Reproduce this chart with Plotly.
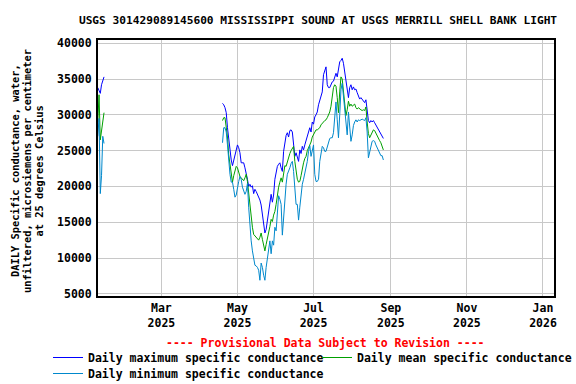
import plotly.graph_objects as go
import pandas as pd

# ---- data ----
early_start = "2025-01-09"
early_max = [33800, 33300, 33000, 34200, 34800, 35300]
early_mean = [29000, 32800, 26500, 28000, 29500, 30300]
early_min = [27000, 29500, 19000, 21500, 27000, 26000]

main_start = "2025-04-19"
main_max = [31600, 31400, 31000, 30300, 28200, 26500, 25100, 23700, 22900, 23600,
            24300, 25400, 25800, 25400, 24700, 23300, 23300, 23300, 22600, 21900,
            21000, 20000, 20300, 19900, 20100, 19000, 19600, 19300, 18900, 18500,
            18100, 17400, 16100, 14700, 13500, 14000, 15100, 16100, 17500, 18900,
            17800, 18800, 21000, 21800, 22800, 23100, 23300, 22600, 22100, 24900,
            26200, 27100, 27500, 26900, 27800, 27900, 27600, 25800, 24200, 24700,
            24000, 23500, 25100, 24600, 25600, 25100, 25800, 26400, 26800, 27600,
            28200, 27600, 29000, 28700, 29700, 30000, 30400, 31400, 32100, 32500,
            33200, 35600, 36200, 36700, 34200, 33800, 33800, 34300, 34600, 34700,
            35400, 35800, 35300, 36200, 37400, 37600, 37900, 37200, 36000, 34300,
            33500, 32400, 33800, 34200, 33500, 33900, 33500, 33600, 33100, 32500,
            32200, 32400, 32100, 31800, 31700, 32100, 30400, 29200, 28900, 29200,
            29000, 29200, 28900, 28600, 28300, 27900, 27600, 27400, 27100, 26700]
main_mean = [29200, 29600, 29600, 28300, 26900, 24400, 22900, 21200, 20600, 21500,
             22400, 22800, 22600, 21900, 21400, 21200, 21000, 20800, 21200, 21700,
             20700, 18900, 17500, 15700, 14300, 13300, 13100, 12800, 12600, 12500,
             12900, 13500, 12600, 11500, 11000, 11900, 12600, 13600, 14400, 15400,
             15100, 16000, 16500, 17500, 18800, 19900, 20600, 21200, 20600, 22100,
             22900, 22800, 23500, 24200, 24600, 25000, 25300, 25600, 23500, 21800,
             21000, 20600, 20700, 21500, 22600, 23300, 23900, 24200, 25000, 25400,
             25800, 26200, 26900, 27200, 27600, 27900, 27900, 28100, 28200, 28600,
             28900, 29000, 29200, 29300, 29600, 29900, 30400, 31200, 32400, 33800,
             34200, 34000, 32400, 30300, 33200, 35300, 35000, 33100, 31700, 29900,
             30700, 31900, 31200, 31500, 31200, 31400, 31500, 31000, 30800, 31000,
             30800, 30700, 30600, 30700, 30600, 31100, 29000, 27400, 26800, 27200,
             27600, 27900, 27800, 27400, 27100, 26700, 26400, 26100, 25700, 25100]
main_min = [26100, 28200, 28200, 27600, 25800, 23100, 21700, 20600, 20600, 19600,
            18500, 18800, 19900, 20700, 21400, 21000, 19900, 19200, 18900, 19300,
            20400, 17100, 14300, 12400, 11000, 9600, 9000, 8900, 8700, 8300,
            6900, 9300, 8700, 7600, 6900, 8700, 10100, 11000, 12400, 10600,
            12400, 11800, 14300, 13800, 16500, 18700, 18200, 17500, 13200, 16100,
            18500, 20300, 21700, 22100, 22600, 23200, 23500, 22100, 19600, 17500,
            17500, 15300, 17100, 19000, 20300, 21000, 21700, 22400, 23500, 24900,
            25700, 24200, 25100, 25800, 21700, 20700, 20700, 21000, 23500, 24900,
            25600, 25400, 24900, 24900, 25600, 26100, 26700, 26800, 26800, 27500,
            30000, 31800, 29300, 26800, 30000, 33500, 34400, 32800, 31000, 28800,
            27200, 30400, 28200, 26300, 27200, 28500, 29000, 29300, 29000, 29300,
            29200, 29300, 29400, 29300, 29200, 29600, 27600, 24000, 24900, 25700,
            26300, 26400, 26300, 25800, 25400, 25000, 24700, 24300, 24300, 23700]

tick_dates = ["2025-03-01", "2025-05-01", "2025-07-01", "2025-09-01", "2025-11-01", "2026-01-01"]
tick_labels = ["Mar<br>2025", "May<br>2025", "Jul<br>2025", "Sep<br>2025", "Nov<br>2025", "Jan<br>2026"]
y_ticks = [5000, 10000, 15000, 20000, 25000, 30000, 35000, 40000]

title_text = "USGS 301429089145600 MISSISSIPPI SOUND AT USGS MERRILL SHELL BANK LIGHT"
ytitle_lines = ["DAILY Specific conductance, water,",
                "unfiltered, microsiemens per centimeter",
                "at 25 degrees Celsius"]

# ---- build series with a gap ----
early_dates = list(pd.date_range(early_start, periods=len(early_max), freq="D"))
main_dates = list(pd.date_range(main_start, periods=len(main_max), freq="D"))
gap_date = [early_dates[-1] + pd.Timedelta(days=1)]
dates = early_dates + gap_date + main_dates


def join(a, b):
    return list(a) + [None] + list(b)


FONT = "DejaVu Sans Mono"
LFONT = dict(family=FONT, size=11.5, color="black", weight="bold")

L, R, T, B = 98, 22, 40, 88
W, H = 576, 384
pw = W - L - R
ph = H - T - B

fig = go.Figure()
fig.add_trace(go.Scatter(x=dates, y=join(early_max, main_max), mode="lines",
                         line=dict(color="#0000ff", width=1),
                         name="Daily maximum specific conductance", legend="legend"))
fig.add_trace(go.Scatter(x=dates, y=join(early_mean, main_mean), mode="lines",
                         line=dict(color="#00a000", width=1),
                         name="Daily mean specific conductance", legend="legend2"))
fig.add_trace(go.Scatter(x=dates, y=join(early_min, main_min), mode="lines",
                         line=dict(color="#0088cc", width=1),
                         name="Daily minimum specific conductance", legend="legend3"))

row1 = -(343 - (H - B)) / ph
row2 = -(359 - (H - B)) / ph
common_leg = dict(orientation="v", xanchor="left", yanchor="top", font=LFONT,
                  bgcolor="rgba(0,0,0,0)", borderwidth=0, tracegroupgap=0)
fig.update_layout(
    width=W, height=H,
    margin=dict(l=L, r=R, t=T, b=B, pad=0, autoexpand=False),
    paper_bgcolor="white", plot_bgcolor="white",
    font=LFONT,
    title=dict(text=title_text, x=318 / W, xanchor="center", y=1 - 20 / H, yanchor="middle",
               font=dict(family=FONT, size=11.2, color="black", weight="bold")),
    showlegend=True,
    legend=dict(x=(48 - L) / pw, y=row1, **common_leg),
    legend2=dict(x=(317 - L) / pw, y=row1, **common_leg),
    legend3=dict(x=(48 - L) / pw, y=row2, **common_leg),
    xaxis=dict(type="date", range=["2025-01-09 04:00", "2026-01-09 20:00"],
               tickvals=tick_dates, ticktext=tick_labels, showgrid=True,
               gridcolor="#c8c8c8", gridwidth=1, showline=True, linecolor="black",
               linewidth=2, mirror=True, ticks="", zeroline=False, tickfont=LFONT),
    yaxis=dict(range=[4700, 40450], tickvals=y_ticks, ticktext=[str(v) for v in y_ticks],
               showgrid=True, gridcolor="#c8c8c8", gridwidth=1, showline=True,
               linecolor="black", linewidth=2, mirror=True, ticks="", zeroline=False,
               ticklabelstandoff=2, tickfont=LFONT),
)

fig.add_annotation(text="---- Provisional Data Subject to Revision ----", xref="paper", yref="paper",
                   x=(325.5 - L) / pw, y=-(342.7 - (H - B)) / ph, xanchor="center", yanchor="middle",
                   showarrow=False, font=dict(family=FONT, size=11.5, color="#ff0000", weight="bold"))

for xpix, line in zip([15, 27, 38.5], ytitle_lines):
    fig.add_annotation(text=line, xref="paper", yref="paper",
                       x=(xpix - L) / pw, y=1 - (171 - T) / ph, xanchor="center", yanchor="middle",
                       textangle=-90, showarrow=False,
                       font=dict(family=FONT, size=10.4, color="black", weight="bold"))

fig.write_html("out.html", config={"displayModeBar": False},
               post_script="document.body.style.margin='0';document.body.style.padding='0';")
